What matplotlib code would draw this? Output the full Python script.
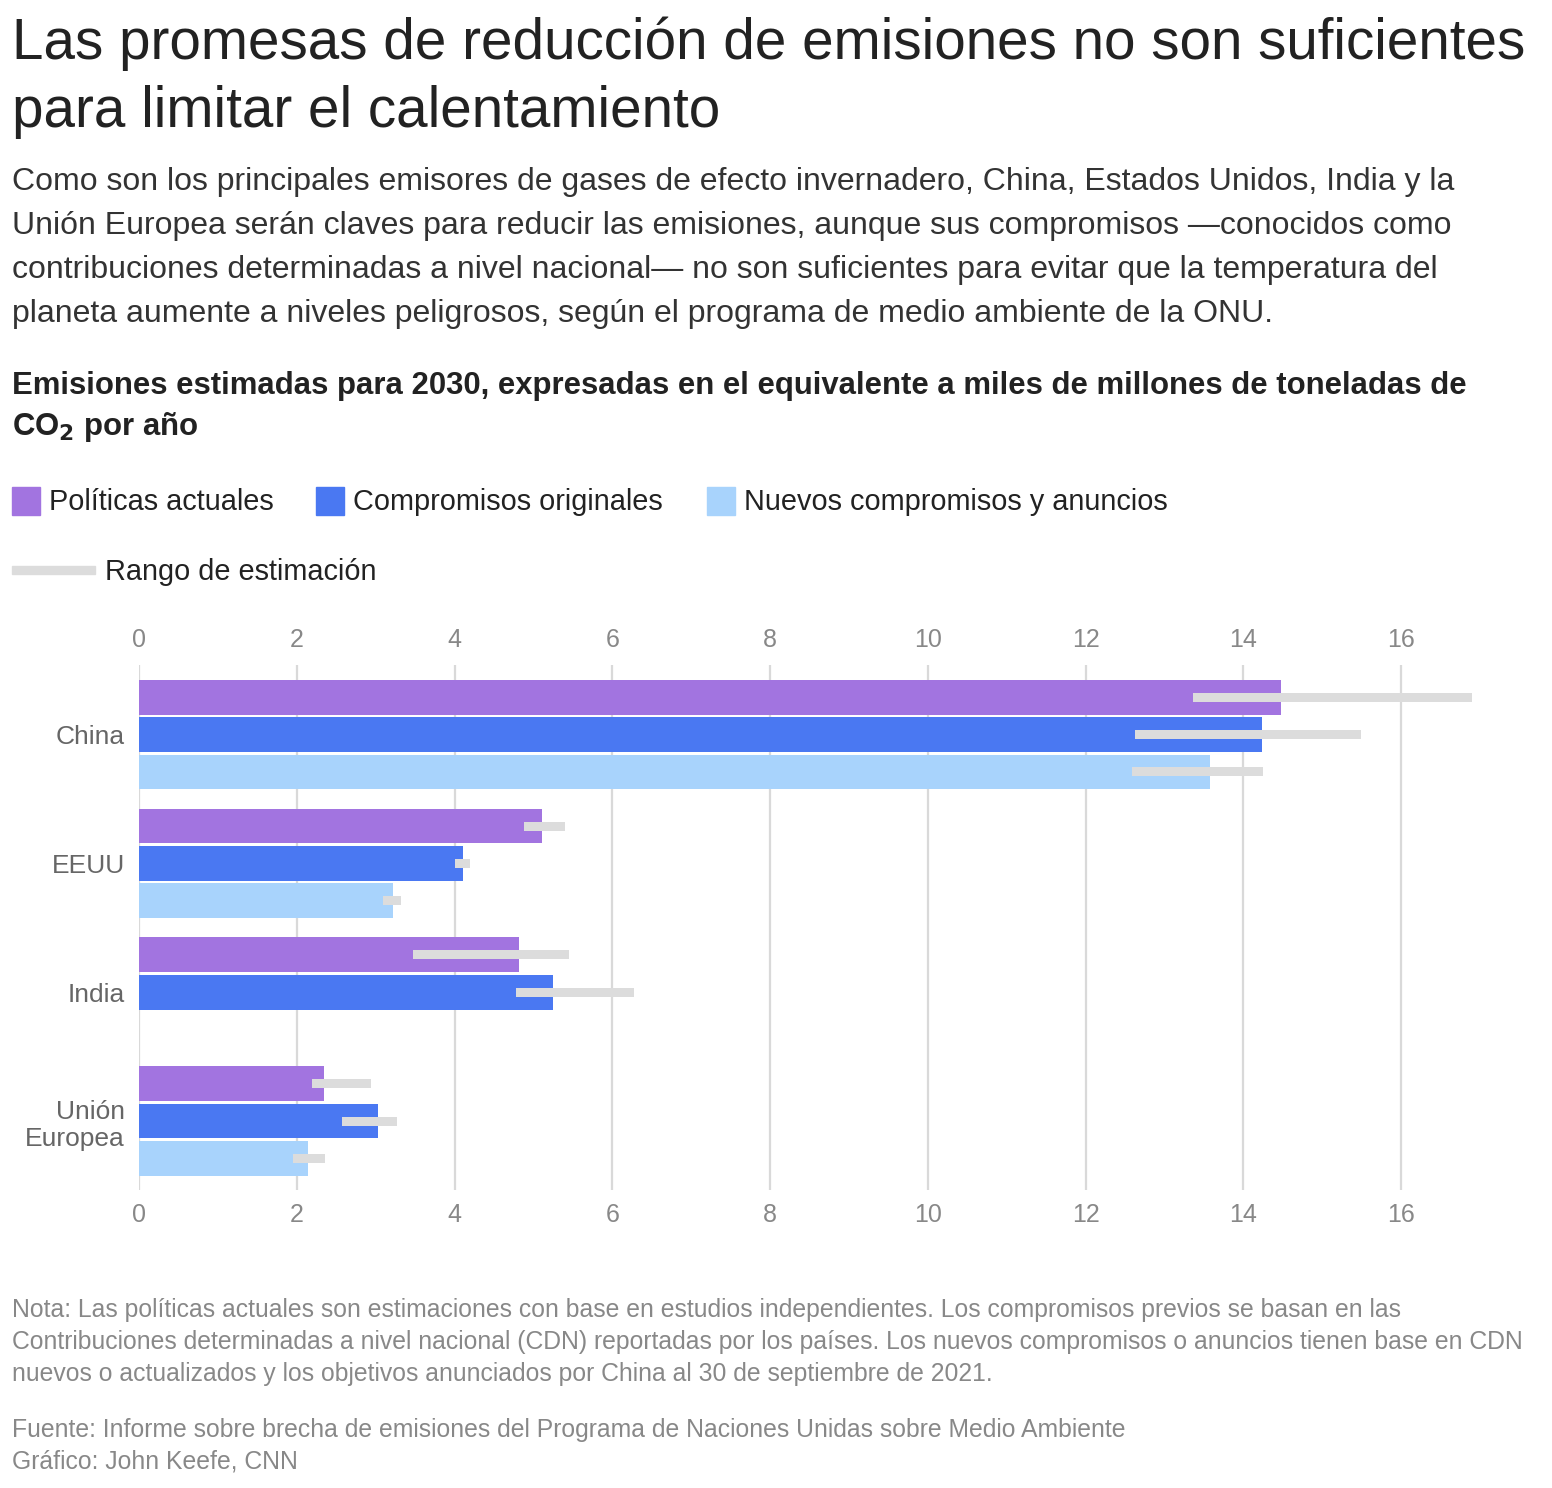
import numpy as np
import matplotlib.pyplot as plt

# --- DATA ---
regions = ["China", "EEUU", "India", "Unión\nEuropea"]
series = ["Políticas actuales", "Compromisos originales", "Nuevos compromisos y anuncios"]

actuales = [14.48, 5.11, 4.82, 2.35]
originales = [14.24, 4.11, 5.25, 3.03]
nuevos = [13.58, 3.22, np.nan, 2.14]

actuales_rng = [(13.36, 16.90), (4.88, 5.40), (3.47, 5.45), (2.19, 2.94)]
originales_rng = [(12.63, 15.49), (4.01, 4.20), (4.78, 6.28), (2.57, 3.27)]
nuevos_rng = [(12.59, 14.25), (3.09, 3.32), (np.nan, np.nan), (1.95, 2.36)]

xticks = [0, 2, 4, 6, 8, 10, 12, 14, 16]

colors = ["#a274e0", "#4a78f2", "#a8d3fc"]
range_color = "#dcdcdc"
text_dark = "#222222"
text_gray = "#888888"

plt.rcParams["font.family"] = ["Liberation Sans", "DejaVu Sans"]

W, H = 1552, 1488
fig = plt.figure(figsize=(W / 100, H / 100), dpi=100)
fig.patch.set_facecolor("white")


def fy(py):
    return 1 - py / H


def fx(px):
    return px / W


# --- HEADER TEXT ---
fig.text(fx(12), fy(44), "Las promesas de reducción de emisiones no son suficientes",
         fontsize=40.8, color=text_dark, va="center", ha="left")
fig.text(fx(12), fy(112), "para limitar el calentamiento",
         fontsize=40.8, color=text_dark, va="center", ha="left")

sub = ["Como son los principales emisores de gases de efecto invernadero, China, Estados Unidos, India y la",
       "Unión Europea serán claves para reducir las emisiones, aunque sus compromisos —conocidos como",
       "contribuciones determinadas a nivel nacional— no son suficientes para evitar que la temperatura del",
       "planeta aumente a niveles peligrosos, según el programa de medio ambiente de la ONU."]
for i, line in enumerate(sub):
    fig.text(fx(12), fy(182 + 44 * i), line, fontsize=23, color="#333333", va="center")

fig.text(fx(12), fy(386), "Emisiones estimadas para 2030, expresadas en el equivalente a miles de millones de toneladas de",
         fontsize=22.4, weight="bold", color=text_dark, va="center")
fig.text(fx(12), fy(427), r"CO$_\mathbf{2}$ por año",
         fontsize=22.4, weight="bold", color=text_dark, va="center")

# --- LEGEND ---
leg_x = [12, 316, 707]
for x0, c, lab in zip(leg_x, colors, series):
    fig.patches.append(plt.Rectangle((fx(x0), fy(515)), 28 / W, 28 / H,
                                     transform=fig.transFigure, color=c))
    fig.text(fx(x0 + 37), fy(502), lab, fontsize=20.8, color=text_dark, va="center")
fig.patches.append(plt.Rectangle((fx(12), fy(574)), 83 / W, 8 / H,
                                 transform=fig.transFigure, color=range_color))
fig.text(fx(105), fy(572), "Rango de estimación", fontsize=20.8, color=text_dark, va="center")

# --- CHART ---
ax_left, ax_right = 139, 139 + 17 * 78.875
ax_top, ax_bot = 665, 1190
ax = fig.add_axes([fx(ax_left), fy(ax_bot), (ax_right - ax_left) / W, (ax_bot - ax_top) / H])

y = np.arange(len(regions))
bar_h = 0.27
step = 0.29
offsets = [-step, 0, step]
all_vals = [actuales, originales, nuevos]
all_rngs = [actuales_rng, originales_rng, nuevos_rng]

for off, vals, rngs, c in zip(offsets, all_vals, all_rngs, colors):
    vals = np.array(vals, dtype=float)
    ok = ~np.isnan(vals)
    ax.barh(y[ok] + off, vals[ok], height=bar_h, color=c, zorder=2)
    lo = np.array([r[0] for r in rngs], dtype=float)
    hi = np.array([r[1] for r in rngs], dtype=float)
    ax.barh(y[ok] + off, (hi - lo)[ok], left=lo[ok], height=0.07,
            color=range_color, zorder=3)

ax.set_xlim(0, 17)
ax.set_ylim(3.535, -0.54)
ax.set_xticks(xticks)
ax.set_yticks(y)
ax.set_yticklabels(regions, fontsize=19, color="#666666", ha="right")
ax.tick_params(axis="y", length=0, pad=10)
ax.tick_params(axis="x", length=0, labelsize=18, labelcolor=text_gray,
               labeltop=True, labelbottom=True, pad=9)
ax.grid(axis="x", color="#d9d9d9", linewidth=1.6, zorder=0)
ax.set_axisbelow(True)
for s in ax.spines.values():
    s.set_visible(False)

# --- NOTES ---
notes = ["Nota: Las políticas actuales son estimaciones con base en estudios independientes. Los compromisos previos se basan en las",
         "Contribuciones determinadas a nivel nacional (CDN) reportadas por los países. Los nuevos compromisos o anuncios tienen base en CDN",
         "nuevos o actualizados y los objetivos anunciados por China al 30 de septiembre de 2021."]
for i, line in enumerate(notes):
    fig.text(fx(12), fy(1310 + 32 * i), line, fontsize=17.8, color=text_gray, va="center")
fig.text(fx(12), fy(1430), "Fuente: Informe sobre brecha de emisiones del Programa de Naciones Unidas sobre Medio Ambiente",
         fontsize=17.8, color=text_gray, va="center")
fig.text(fx(12), fy(1462), "Gráfico: John Keefe, CNN", fontsize=17.8, color=text_gray, va="center")

fig.savefig("out.png", dpi=100, facecolor="white")
